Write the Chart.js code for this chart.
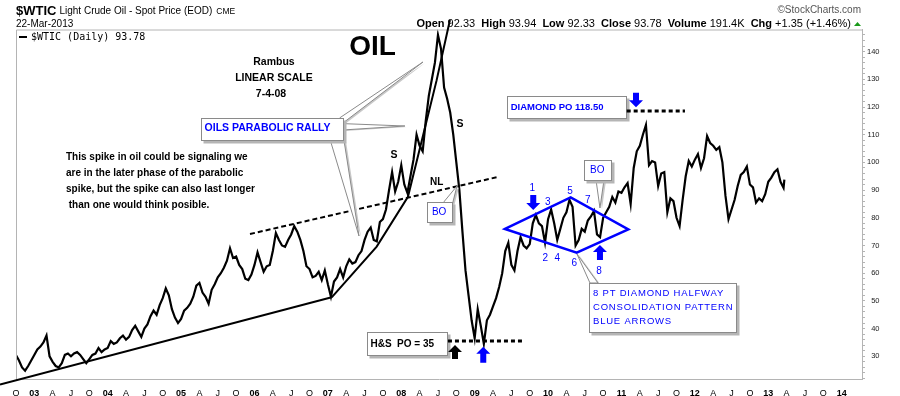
<!DOCTYPE html>
<html><head><meta charset="utf-8">
<script src="https://cdn.jsdelivr.net/npm/chart.js@4.4.0/dist/chart.umd.min.js"></script>
<style>html,body{margin:0;padding:0;background:#fff;}#wrap{width:900px;height:396px;}</style>
</head><body><div id="wrap"><canvas id="c" width="900" height="396"></canvas></div>
<script>
// ---- DATA: WTIC spot, two readings per month (1st and 16th) ----
const price2002 = [30.5, 28.5, 26.0, 24.8, 26.5, 28.5]; // Oct..Dec 2002
const price2003 = [30.5, 32.5, 33.5, 35.0, 37.5, 30.0, 28.0, 26.5, 26.0, 27.5, 30.5, 31.0, 30.0, 31.0, 31.5, 30.5, 29.0, 27.5, 29.0, 30.5, 31.0, 33.0, 31.5, 32.5];
const price2004 = [33.0, 35.5, 34.5, 35.0, 36.5, 37.5, 36.0, 37.0, 39.5, 41.0, 39.0, 37.0, 40.0, 41.5, 44.5, 46.5, 45.0, 48.5, 51.0, 54.5, 52.0, 47.0, 44.0, 42.0];
const price2005 = [43.5, 46.5, 47.5, 49.0, 51.5, 55.5, 56.5, 53.0, 51.5, 49.0, 54.0, 56.0, 58.5, 60.0, 62.0, 64.5, 69.0, 65.5, 66.0, 63.0, 61.5, 58.0, 57.5, 59.5];
const price2006 = [63.0, 67.5, 64.0, 60.5, 62.5, 63.0, 68.0, 74.5, 72.0, 70.0, 69.5, 72.0, 74.0, 77.0, 75.0, 72.0, 68.0, 62.5, 61.5, 58.5, 59.0, 60.5, 57.5, 61.0];
const price2007 = [56.0, 51.5, 57.0, 58.5, 61.5, 58.5, 62.5, 65.0, 63.5, 64.0, 66.5, 68.0, 72.0, 75.0, 76.5, 72.0, 71.5, 78.5, 79.5, 83.0, 90.0, 96.5, 89.5, 93.0];
const price2008 = [99.0, 92.0, 89.0, 95.0, 101.0, 110.0, 106.0, 104.0, 115.0, 124.0, 130.0, 136.0, 146.0, 141.0, 127.0, 123.0, 118.0, 110.0, 100.0, 90.0, 75.0, 61.0, 52.0, 43.0];
const price2009 = [36.5, 47.0, 41.0, 34.5, 43.0, 45.0, 48.0, 51.0, 55.0, 60.0, 68.0, 71.0, 63.0, 61.0, 68.0, 73.0, 70.0, 69.0, 70.5, 78.0, 81.0, 78.0, 77.0, 71.0];
const price2010 = [79.5, 83.0, 78.0, 72.0, 76.0, 80.0, 82.0, 86.5, 84.0, 70.0, 72.0, 76.0, 75.0, 79.0, 80.5, 82.5, 74.0, 73.0, 80.0, 82.0, 84.0, 87.5, 85.5, 89.5];
const price2011 = [89.0, 91.0, 92.5, 85.0, 98.0, 104.0, 106.0, 110.0, 113.5, 99.0, 100.5, 100.0, 91.5, 96.0, 96.5, 82.0, 87.0, 86.0, 80.0, 77.0, 86.5, 95.0, 100.5, 98.5];
const price2012 = [101.0, 103.0, 98.0, 101.5, 109.5, 107.0, 106.0, 104.5, 105.5, 100.0, 88.0, 79.5, 83.0, 86.5, 91.5, 95.5, 96.5, 98.5, 92.0, 91.0, 85.5, 87.0, 86.0, 88.5];
const price2013 = [93.0, 94.5, 96.5, 97.5, 93.0, 90.8];
const lastDate = '2013-03-22';
const lastClose = 93.78;

const xTickQuarters = ['O', 'YY', 'A', 'J']; // Oct, Jan(year), Apr, Jul
const yTickLabels = [30, 40, 50, 60, 70, 80, 90, 100, 110, 120, 130, 140];

// annotation anchors in data units (decimal year, price)
const trendLow = [[2002.533, 19.8], [2007.052, 51.3]];
const trendParabolic = [[2007.052, 51.3], [2007.665, 69.6], [2008.091, 87.6], [2008.482, 129.7], [2008.663, 151.4]];
const neckline = [[2005.939, 74.15], [2009.331, 94.84]];
const hsTarget = {from: 2008.636, to: 2009.658, value: 35.5};
const diamondTarget = {from: 2011.071, to: 2011.865, value: 118.6};
const diamond = [[2009.413, 75.96], [2010.308, 87.4], [2011.093, 75.85], [2010.39, 67.4]];
const diamondNumbers = [['1', 2009.785, 90.65], ['2', 2009.962, 65.38], ['3', 2009.995, 85.45], ['4', 2010.125, 65.38],
                        ['5', 2010.298, 89.68], ['6', 2010.357, 63.57], ['7', 2010.54, 86.43], ['8', 2010.693, 60.54]];

// ---- build points ----
const yearly = [[2002, 18, price2002], [2003, 0, price2003], [2004, 0, price2004], [2005, 0, price2005], [2006, 0, price2006],
  [2007, 0, price2007], [2008, 0, price2008], [2009, 0, price2009], [2010, 0, price2010], [2011, 0, price2011],
  [2012, 0, price2012], [2013, 0, price2013]];
const points = [];
yearly.forEach(([yr, start, arr]) => arr.forEach((v, i) => points.push({x: yr + (start + i) / 24, y: v})));
(function () {
  const d = new Date(lastDate + 'T00:00:00Z');
  const y0 = Date.UTC(d.getUTCFullYear(), 0, 1);
  points.push({x: d.getUTCFullYear() + (d - y0) / (365 * 864e5), y: lastClose});
})();

const F = '"Liberation Sans", Arial, Helvetica, sans-serif';
const BLUE = '#0000ff';

const annotations = {
  id: 'annotations',
  afterDraw(chart) {
    const ctx = chart.ctx, xs = chart.scales.x, ys = chart.scales.y, ca = chart.chartArea;
    const P = (t, v) => [xs.getPixelForValue(t), ys.getPixelForValue(v)];
    const text = (s, t, v, font, color, align) => {
      const [x, y] = P(t, v);
      ctx.font = font; ctx.fillStyle = color; ctx.textAlign = align || 'left'; ctx.textBaseline = 'middle';
      ctx.fillText(s, x, y);
    };
    const poly = (pts, stroke, width, dash, close) => {
      ctx.beginPath();
      pts.forEach((p, i) => { const [x, y] = P(p[0], p[1]); i ? ctx.lineTo(x, y) : ctx.moveTo(x, y); });
      if (close) ctx.closePath();
      ctx.strokeStyle = stroke; ctx.lineWidth = width; ctx.setLineDash(dash || []); ctx.stroke(); ctx.setLineDash([]);
    };
    const box = (t1, v1, t2, v2) => {
      const [x1, y1] = P(t1, v1), [x2, y2] = P(t2, v2);
      const x = Math.round(x1) + 0.5, y = Math.round(y1) + 0.5, w = Math.round(x2 - x1), h = Math.round(y2 - y1);
      ctx.fillStyle = '#b5b5b5'; ctx.fillRect(x + 2, y + 2, w + 1, h + 1);
      ctx.fillStyle = '#fff'; ctx.fillRect(x, y, w, h);
      ctx.strokeStyle = '#8a8a8a'; ctx.lineWidth = 1; ctx.strokeRect(x, y, w, h);
    };
    const tail = (pts) => {
      const px = pts.map(p => P(p[0], p[1]));
      ctx.beginPath(); px.forEach(([x, y], i) => i ? ctx.lineTo(x + 2, y + 1) : ctx.moveTo(x + 2, y + 1)); ctx.closePath();
      ctx.fillStyle = '#c8c8c8'; ctx.fill();
      ctx.beginPath(); px.forEach(([x, y], i) => i ? ctx.lineTo(x, y) : ctx.moveTo(x, y)); ctx.closePath();
      ctx.fillStyle = '#fff'; ctx.fill(); ctx.strokeStyle = '#8a8a8a'; ctx.lineWidth = 1; ctx.stroke();
    };
    const arrow = (t, vTail, vTip, color) => {
      const [x, y0] = P(t, vTail), [, y1] = P(t, vTip);
      const d = Math.sign(y1 - y0), hl = 7, hw = 7, sw = 3;
      ctx.beginPath();
      ctx.moveTo(x, y1); ctx.lineTo(x - hw, y1 - d * hl); ctx.lineTo(x - sw, y1 - d * hl); ctx.lineTo(x - sw, y0);
      ctx.lineTo(x + sw, y0); ctx.lineTo(x + sw, y1 - d * hl); ctx.lineTo(x + hw, y1 - d * hl); ctx.closePath();
      ctx.fillStyle = color; ctx.fill();
    };

    ctx.save();
    // frame (top + left)
    ctx.strokeStyle = '#b4b4b4'; ctx.lineWidth = 1;
    ctx.beginPath(); ctx.moveTo(ca.left + 0.5, ca.bottom); ctx.lineTo(ca.left + 0.5, ca.top + 0.5); ctx.lineTo(ca.right, ca.top + 0.5); ctx.stroke();

    // y tick labels (right-aligned like the reference)
    ctx.font = '7.5px ' + F; ctx.fillStyle = '#222'; ctx.textAlign = 'right'; ctx.textBaseline = 'middle';
    yTickLabels.forEach(v => ctx.fillText(String(v), 879.5, ys.getPixelForValue(v)));

    // header
    ctx.textBaseline = 'middle'; ctx.textAlign = 'left'; ctx.fillStyle = '#000';
    ctx.font = 'bold 13px ' + F; ctx.fillText('$WTIC', 16, 11);
    let w = ctx.measureText('$WTIC').width;
    ctx.font = '10px ' + F; ctx.fillText('Light Crude Oil - Spot Price (EOD)', 16 + w + 3, 11.5);
    let w2 = ctx.measureText('Light Crude Oil - Spot Price (EOD)').width;
    ctx.font = '8.5px ' + F; ctx.fillText('CME', 16 + w + 3 + w2 + 4, 12);
    ctx.font = '10px ' + F; ctx.fillText('22-Mar-2013', 16, 24);
    ctx.fillStyle = '#555'; ctx.textAlign = 'right'; ctx.font = '10px ' + F; ctx.fillText('\u00A9StockCharts.com', 861, 10.5);
    const segs = [['b', 'Open'], ['n', ' 92.33  '], ['b', 'High'], ['n', ' 93.94  '], ['b', 'Low'], ['n', ' 92.33  '],
      ['b', 'Close'], ['n', ' 93.78  '], ['b', 'Volume'], ['n', ' 191.4K  '], ['b', 'Chg'], ['n', ' +1.35 (+1.46%) ']];
    const fnt = s => (s === 'b' ? 'bold 11px ' : '11px ') + F;
    let total = 0; segs.forEach(([s, str]) => { ctx.font = fnt(s); total += ctx.measureText(str).width; });
    let xx = 854 - total; ctx.textAlign = 'left'; ctx.fillStyle = '#000';
    segs.forEach(([s, str]) => { ctx.font = fnt(s); ctx.fillText(str, xx, 24); xx += ctx.measureText(str).width; });
    ctx.fillStyle = '#1a9a1a'; ctx.beginPath(); ctx.moveTo(854, 26); ctx.lineTo(861, 26); ctx.lineTo(857.5, 22); ctx.closePath(); ctx.fill();

    // legend
    ctx.fillStyle = '#000'; ctx.fillRect(19, 36, 8, 2);
    ctx.font = '10px "DejaVu Sans Mono", monospace'; ctx.textAlign = 'left'; ctx.fillText('$WTIC (Daily) 93.78', 31, 37.5);

    // trend lines
    poly(trendLow, '#000', 2);
    poly(trendParabolic, '#000', 2);
    poly(neckline, '#000', 2, [5, 3]);

    // parabolic rally callout
    tail([[2007.165, 116.14], [2007.206, 114.22], [2008.296, 136.25]]);
    tail([[2007.206, 114.0], [2007.206, 111.7], [2008.05, 113.14]]);
    tail([[2007.029, 108.34], [2007.206, 110.25], [2007.424, 73.43]]);
    box(2005.275, 116.14, 2007.206, 108.34);
    text('OILS PARABOLIC RALLY', 2005.32, 112.3, 'bold 10.5px ' + F, BLUE);

    // texts
    text('Rambus', 2006.266, 136.25, 'bold 10.5px ' + F, '#000', 'center');
    text('LINEAR SCALE', 2006.266, 130.47, 'bold 10.5px ' + F, '#000', 'center');
    text('7-4-08', 2006.225, 124.7, 'bold 10.5px ' + F, '#000', 'center');
    text('OIL', 2007.608, 141.7, 'bold 28px ' + F, '#000', 'center');
    const para = ['This spike in oil could be signaling we', 'are in the later phase of the parabolic',
      'spike, but the spike can also last longer', ' than one would think posible.'];
    [101.84, 96.06, 90.4, 84.62].forEach((v, i) => text(para[i], 2003.432, v, 'bold 10px ' + F, '#000'));
    text('S', 2007.9, 102.67, 'bold 10.5px ' + F, '#000', 'center');
    text('S', 2008.8, 113.75, 'bold 10.5px ' + F, '#000', 'center');
    text('NL', 2008.482, 92.82, 'bold 10px ' + F, '#000', 'center');

    // BO (H&S)
    tail([[2008.582, 85.81], [2008.687, 83.9], [2008.759, 91.48]]);
    box(2008.346, 85.81, 2008.687, 78.48);
    text('BO', 2008.516, 82.1, '10px ' + F, BLUE, 'center');

    // H&S target
    box(2007.537, 38.66, 2008.627, 30.47);
    text('H&S  PO = 35', 2007.58, 34.5, 'bold 10px ' + F, '#000');
    poly([[hsTarget.from, hsTarget.value], [hsTarget.to, hsTarget.value]], '#000', 3, [4, 3]);
    arrow(2008.732, 29.03, 34.08, '#000');
    arrow(2009.117, 27.69, 33.47, BLUE);

    // Diamond target
    box(2009.444, 123.97, 2011.071, 115.92);
    text('DIAMOND PO 118.50', 2009.49, 119.9, 'bold 9.5px ' + F, BLUE);
    poly([[diamondTarget.from, diamondTarget.value], [diamondTarget.to, diamondTarget.value]], '#000', 3, [4, 3]);
    arrow(2011.198, 125.16, 119.89, BLUE);

    // diamond
    poly(diamond, BLUE, 2.5, null, true);
    diamondNumbers.forEach(([s, t, v]) => text(s, t, v, '10px ' + F, BLUE, 'center'));
    arrow(2009.798, 88.23, 82.82, BLUE);
    arrow(2010.707, 64.77, 70.18, BLUE);

    // BO (diamond)
    tail([[2010.653, 93.65], [2010.762, 93.65], [2010.707, 83.54]]);
    box(2010.489, 100.87, 2010.853, 93.65);
    text('BO', 2010.671, 97.3, '10px ' + F, BLUE, 'center');

    // 8 PT box
    tail([[2010.571, 56.46], [2010.68, 56.46], [2010.394, 66.93]]);
    box(2010.557, 56.46, 2012.56, 38.77);
    ctx.letterSpacing = '0.8px';
    text('8 PT DIAMOND HALFWAY', 2010.612, 52.85, '9.5px ' + F, BLUE);
    text('CONSOLIDATION PATTERN', 2010.612, 47.69, '9.5px ' + F, BLUE);
    text('BLUE ARROWS', 2010.612, 42.49, '9.5px ' + F, BLUE);
    ctx.letterSpacing = '0px';
    ctx.restore();
  }
};

new Chart(document.getElementById('c'), {
  type: 'line',
  data: {datasets: [{data: points, borderColor: '#000', borderWidth: 2.2, pointRadius: 0, tension: 0, fill: false}]},
  options: {
    responsive: false, animation: false, events: [],
    layout: {padding: {left: 16, top: 29.5, right: 0, bottom: 0}},
    plugins: {legend: {display: false}, tooltip: {enabled: false}},
    scales: {
      x: {
        type: 'linear', min: 2002.751, max: 2014.277, position: 'bottom',
        grid: {display: false}, border: {display: true, color: '#b4b4b4'},
        afterBuildTicks: s => {
          const t = []; for (let q = 2002.75; q <= 2014.001; q += 0.25) t.push({value: Math.round(q * 100) / 100});
          s.ticks = t;
        },
        afterFit: s => { s.height = 17; },
        ticks: {
          autoSkip: false, maxRotation: 0, padding: 1, color: '#000',
          font: c => ({family: F, size: 9, weight: (c.tick && Math.abs(c.tick.value % 1) < 0.01) ? 'bold' : 'normal'}),
          callback: v => {
            const fr = Math.round((v % 1) * 4);
            const q = xTickQuarters[(fr + 1) % 4];
            return q === 'YY' ? String(Math.round(v)).slice(2) : q;
          }
        }
      },
      y: {
        type: 'linear', position: 'right', min: 21.805, max: 147.98,
        grid: {display: true, drawOnChartArea: false, drawTicks: true, tickLength: 3, color: '#b4b4b4'},
        border: {display: true, color: '#b4b4b4'},
        afterBuildTicks: s => { const t = []; for (let v = 22; v <= 146; v += 2) t.push({value: v}); s.ticks = t; },
        afterFit: s => { s.width = 38; },
        ticks: { autoSkip: false, padding: 2, font: {family: F, size: 7.5}, callback: () => '' }
      }
    }
  },
  plugins: [annotations]
});
</script></body></html>
